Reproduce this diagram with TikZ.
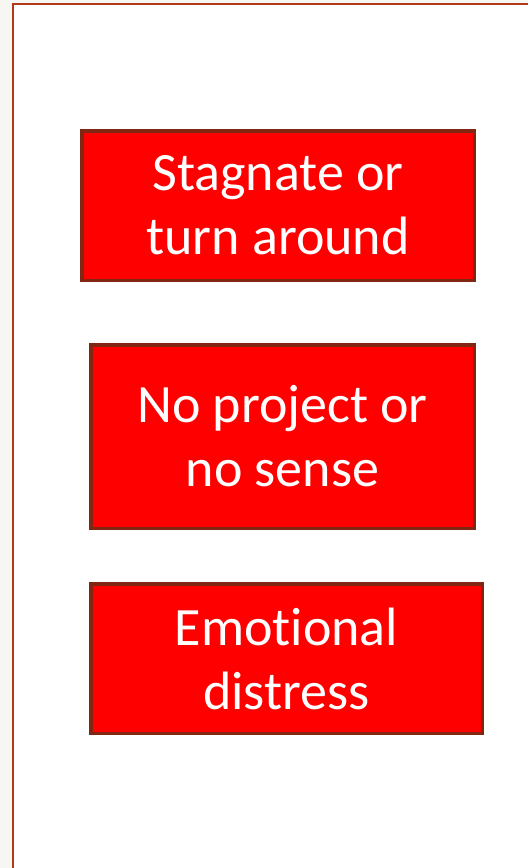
\documentclass[tikz,border=0pt]{standalone}
\usepackage{fontspec}
\setmainfont{Carlito}[Ligatures=NoCommon]
\definecolor{rojocaja}{RGB}{255,0,0}
\definecolor{bordecaja}{RGB}{128,38,18}
\definecolor{marco}{RGB}{176,58,26}
\definecolor{fondo}{RGB}{246,246,242}
\tikzset{
  caja/.style={draw=bordecaja, fill=rojocaja, line width=3.5pt, inner sep=0pt,
    text=white, align=center, font=\fontsize{54}{64}\selectfont}
}
\begin{document}
\begin{tikzpicture}[x=1pt, y=-1pt]
    \useasboundingbox (0,0) rectangle (528,868);

    % Fondo y marco de la hoja
    \fill[fondo] (0,0) rectangle (528,868);
    \fill[white] (13,4) rectangle (528,868);
    \draw[marco, line width=2pt] (13,868) -- (13,4) -- (528,4);

    % Cajas rojas
    \node[caja, minimum width=392.5pt, minimum height=149.5pt] (estancar) at (278,205.5)
        {Stagnate or\\turn around};
    \node[caja, minimum width=383.5pt, minimum height=183.5pt] (proyecto) at (282.5,436.5)
        {No project or\\no sense};
    \node[caja, minimum width=391.5pt, minimum height=149.5pt] (malestar) at (286.5,658.5)
        {Emotional\\distress};
\end{tikzpicture}
\end{document}
